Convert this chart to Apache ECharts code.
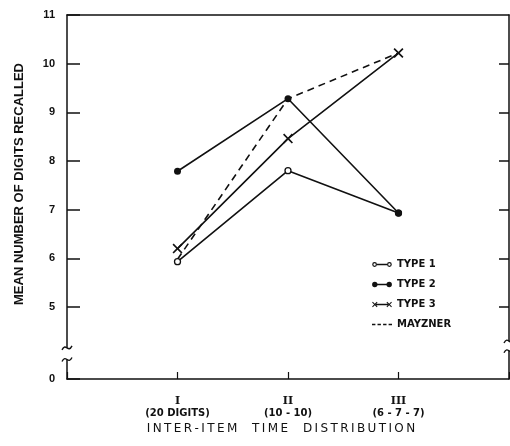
<!DOCTYPE html>
<html><head><meta charset="utf-8">
<script src="https://cdn.jsdelivr.net/npm/echarts@6/dist/echarts.min.js"></script>
<style>html,body{margin:0;padding:0;background:#fff}#c{width:510px;height:446px}</style>
</head><body><div id="c"></div>
<script>
// ---- data ----
const categories = ['I', 'II', 'III'];
const categorySub = ['(20 DIGITS)', '(10 - 10)', '(6 - 7 - 7)'];
const type1 = [5.93, 7.80, 6.93];
const type2 = [7.79, 9.28, 6.93];
const type3 = [6.20, 8.46, 10.22];
const mayzner = [5.98, 9.28, 10.22];
const yTickValues = [5, 6, 7, 8, 9, 10, 11];
const yZeroLabel = '0';
const seriesNames = ['TYPE 1', 'TYPE 2', 'TYPE 3', 'MAYZNER'];
const xTitle = 'INTER-ITEM  TIME  DISTRIBUTION';
const yTitle = 'MEAN NUMBER OF DIGITS RECALLED';
// position on the broken axis where the true zero baseline is drawn
const Y_ZERO_POS = 3.52;

const INK = '#111';
const font = 'Liberation Sans';
const pts = arr => categories.map((c, i) => [i + 1, arr[i]]);
const xPath = 'path://M0,1.2L1.2,0L5,3.8L8.8,0L10,1.2L6.2,5L10,8.8L8.8,10L5,6.2L1.2,10L0,8.8L3.8,5Z';
const spaced = s => s.split('').join('\u2009');

// legend icons (200 x 60 design box, all clockwise sub-paths)
const BOX = 'M0,0L0.01,0L0.01,0.01Z M200,60L199.99,60L199.99,59.99Z ';
const circ = (cx, cy, r, cw) => cw
  ? `M${cx - r},${cy}A${r},${r} 0 0 1 ${cx + r},${cy}A${r},${r} 0 0 1 ${cx - r},${cy}Z `
  : `M${cx - r},${cy}A${r},${r} 0 0 0 ${cx + r},${cy}A${r},${r} 0 0 0 ${cx - r},${cy}Z `;
const rect = (x1, y1, x2, y2) => `M${x1},${y1}L${x2},${y1}L${x2},${y2}L${x1},${y2}Z `;
const xMark = cx => {
  const p = [[0, 1.3], [1.3, 0], [5, 3.7], [8.7, 0], [10, 1.3], [6.3, 5], [10, 8.7], [8.7, 10], [5, 6.3], [1.3, 10], [0, 8.7], [3.7, 5]];
  return 'M' + p.map(q => `${cx - 27 + q[0] * 5.4},${3 + q[1] * 5.4}`).join('L') + 'Z ';
};
const icons = {
  'TYPE 1': BOX + circ(26, 30, 24, true) + circ(26, 30, 12, false) + circ(174, 30, 24, true) + circ(174, 30, 12, false) + rect(50, 23, 150, 37),
  'TYPE 2': BOX + circ(28, 30, 27, true) + circ(172, 30, 27, true) + rect(50, 23, 150, 37),
  'TYPE 3': BOX + xMark(28) + xMark(172) + rect(40, 23, 160, 37),
  'MAYZNER': BOX + rect(0, 23, 34, 37) + rect(55, 23, 89, 37) + rect(111, 23, 145, 37) + rect(166, 23, 200, 37)
};

const chart = echarts.init(document.getElementById('c'), null, {renderer: 'canvas'});
const option = {
  backgroundColor: '#fff',
  animation: false,
  grid: {left: 67, right: 1, top: 15, bottom: 67, containLabel: false, outerBoundsMode: 'none'},
  legend: {
    orient: 'vertical', left: 367, top: 254,
    itemWidth: 20, itemHeight: 7, itemGap: 9,
    textStyle: {fontFamily: 'DejaVu Sans', fontWeight: 'bold', fontSize: 10, color: INK, lineHeight: 11},
    data: seriesNames.map(n => ({
      name: n, icon: 'path://' + icons[n],
      itemStyle: {color: INK, borderWidth: 0, borderColor: INK, opacity: 1}
    }))
  },
  xAxis: [{
    type: 'value', min: 0, max: 4, interval: 1, position: 'bottom',
    axisLine: {show: true, onZero: false, lineStyle: {color: INK, width: 1.5}},
    axisTick: {show: true, inside: true, length: 7, lineStyle: {color: INK, width: 1.2}},
    splitLine: {show: false},
    axisLabel: {
      margin: 16, color: INK,
      formatter: v => (v >= 1 && v <= categories.length) ? '{r|' + categories[v - 1] + '}\n{s|' + categorySub[v - 1] + '}' : '',
      rich: {
        r: {fontFamily: 'DejaVu Serif', fontWeight: 'bold', fontSize: 11, lineHeight: 12, color: INK},
        s: {fontFamily: 'DejaVu Sans', fontWeight: 'bold', fontSize: 10, lineHeight: 12, color: INK}
      }
    },
    name: spaced(xTitle), nameLocation: 'middle', nameGap: 42,
    nameTextStyle: {fontFamily: 'DejaVu Sans', fontSize: 12, color: INK, padding: [0, 14, 0, 0]}
  }, {
    type: 'value', min: 0, max: 4, position: 'top',
    axisLine: {show: true, onZero: false, lineStyle: {color: INK, width: 1.5}},
    axisTick: {show: false}, axisLabel: {show: false}, splitLine: {show: false}
  }],
  yAxis: [{
    type: 'value', min: Y_ZERO_POS, max: 11, position: 'left',
    axisLine: {show: true, onZero: false, lineStyle: {color: INK, width: 1.5}},
    axisTick: {show: true, inside: true, length: 13, customValues: [Y_ZERO_POS].concat(yTickValues), lineStyle: {color: INK, width: 1.5}},
    splitLine: {show: false},
    axisLabel: {
      margin: 12, color: INK, fontFamily: font, fontWeight: 'bold', fontSize: 11,
      customValues: [Y_ZERO_POS].concat(yTickValues),
      formatter: v => v < yTickValues[0] - 0.5 ? yZeroLabel : String(Math.round(v))
    },
    name: yTitle, nameLocation: 'middle', nameGap: 41,
    nameTextStyle: {fontFamily: font, fontWeight: 'bold', fontSize: 13, color: INK, padding: [0, 0, 0, 26]}
  }, {
    type: 'value', min: Y_ZERO_POS, max: 11, position: 'right',
    axisLine: {show: true, onZero: false, lineStyle: {color: INK, width: 1.5}},
    axisTick: {show: true, inside: true, length: 10, customValues: yTickValues.slice(0, -1), lineStyle: {color: INK, width: 1.5}},
    axisLabel: {show: false}, splitLine: {show: false}
  }],
  series: [{
    name: seriesNames[0], type: 'line', data: pts(type1),
    symbol: 'circle', symbolSize: 6,
    lineStyle: {color: INK, width: 1.6},
    itemStyle: {color: '#fff', borderColor: INK, borderWidth: 1.3}
  }, {
    name: seriesNames[1], type: 'line', data: pts(type2),
    symbol: 'circle', symbolSize: 7,
    lineStyle: {color: INK, width: 1.6},
    itemStyle: {color: INK, borderColor: INK, borderWidth: 0}
  }, {
    name: seriesNames[2], type: 'line', data: pts(type3),
    symbol: xPath, symbolSize: 10,
    lineStyle: {color: INK, width: 1.6},
    itemStyle: {color: INK, borderWidth: 0}
  }, {
    name: seriesNames[3], type: 'line', data: pts(mayzner),
    symbol: 'none', showSymbol: false,
    lineStyle: {color: INK, width: 1.6, type: [7, 5]},
    itemStyle: {color: INK}
  }]
};
chart.setOption(option);

// axis-break marks on the left and right axis lines
function breakMarks(xVal, vHi, vLo) {
  const p1 = chart.convertToPixel({xAxisIndex: 0, yAxisIndex: 0}, [xVal, vHi]);
  const p2 = chart.convertToPixel({xAxisIndex: 0, yAxisIndex: 0}, [xVal, vLo]);
  const x = p1[0];
  const squig = y => ({
    type: 'bezierCurve', z: 100,
    shape: {x1: x - 5, y1: y + 2, x2: x + 5, y2: y - 2, cpx1: x - 1, cpy1: y - 6, cpx2: x + 1, cpy2: y + 6},
    style: {stroke: INK, lineWidth: 1.4, fill: null}
  });
  return [
    {type: 'rect', z: 99, shape: {x: x - 3, y: p1[1], width: 6, height: p2[1] - p1[1]}, style: {fill: '#fff'}},
    squig(p1[1]), squig(p2[1])
  ];
}
chart.setOption({graphic: breakMarks(0, 4.16, 3.92).concat(breakMarks(4, 4.3, 4.1))});
</script></body></html>
